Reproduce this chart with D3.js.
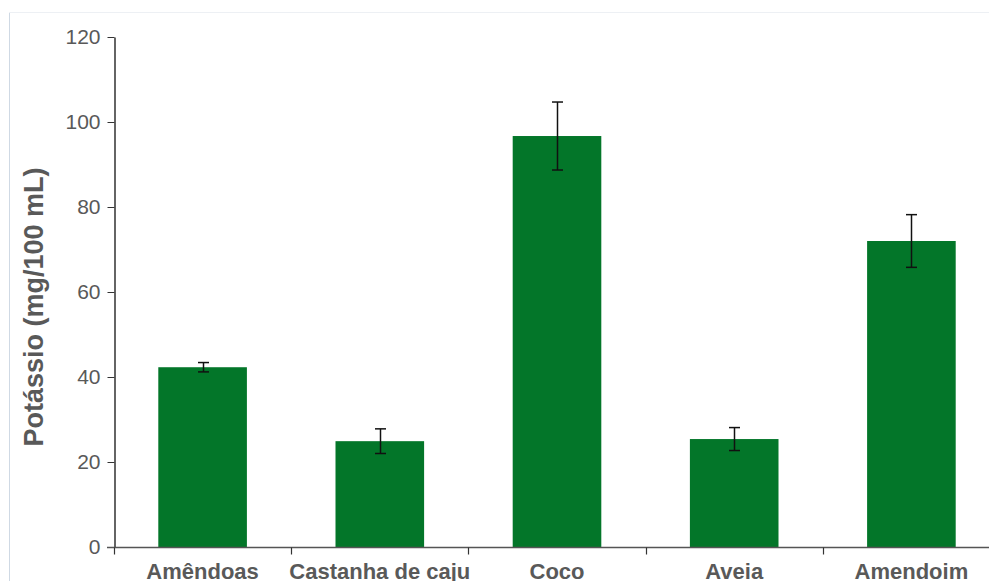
<!DOCTYPE html>
<html>
<head>
<meta charset="utf-8">
<script src="https://cdn.jsdelivr.net/npm/d3@7"></script>
<style>
  html, body { margin: 0; padding: 0; background: #fff; }
  svg { display: block; }
</style>
</head>
<body>
<svg id="chart" width="989" height="581"></svg>
<script>
// Potassium content of plant-based drinks (mg/100 mL), mean ± error
const categories = ["Amêndoas", "Castanha de caju", "Coco", "Aveia", "Amendoim"];
const values = [42.3, 24.9, 96.7, 25.4, 72.0];
const errors = [1.1, 2.9, 8.0, 2.7, 6.2];
const yTicks = [0, 20, 40, 60, 80, 100, 120];
const yTitle = "Potássio (mg/100 mL)";

const data = categories.map((c, i) => ({ name: c, value: values[i], err: errors[i] }));

const svg = d3.select("#chart");
const margin = { left: 114, top: 37 };
const plotRight = 1000;
const height = 581;
const font = "Liberation Sans, Arial, sans-serif";

// light frame lines
svg.append("line").attr("x1", 9.5).attr("x2", 9.5).attr("y1", 12).attr("y2", height)
  .attr("stroke", "#cfd9e4").attr("stroke-width", 1);
svg.append("line").attr("x1", 9).attr("x2", 989).attr("y1", 12.5).attr("y2", 12.5)
  .attr("stroke", "#edf0f4").attr("stroke-width", 1);

const x = d3.scaleBand().domain(categories).range([margin.left, plotRight]).paddingInner(0.5).paddingOuter(0.25);
const y = d3.scaleLinear().domain([0, 120]).range([547, margin.top]);

// bars
svg.append("g").selectAll("rect").data(data).join("rect")
  .attr("x", d => x(d.name))
  .attr("width", x.bandwidth())
  .attr("y", d => y(d.value))
  .attr("height", d => y(0) - y(d.value))
  .attr("fill", "#037629");

// error bars
const eb = svg.append("g").attr("stroke", "#111").attr("stroke-width", 1.5);
data.forEach(d => {
  const cx = Math.round(x(d.name) + x.bandwidth() / 2) + 0.5;
  const top = y(d.value + d.err), bot = y(d.value - d.err);
  eb.append("line").attr("x1", cx).attr("x2", cx).attr("y1", top).attr("y2", bot);
  eb.append("line").attr("x1", cx - 5.5).attr("x2", cx + 5.5).attr("y1", top).attr("y2", top);
  eb.append("line").attr("x1", cx - 5.5).attr("x2", cx + 5.5).attr("y1", bot).attr("y2", bot);
});

// y axis
const yAxis = svg.append("g").attr("transform", `translate(${margin.left + 0.5},0)`)
  .call(d3.axisLeft(y).tickValues(yTicks).tickSize(7).tickPadding(7).tickSizeOuter(0));
yAxis.select(".domain").attr("stroke", "#111").attr("stroke-width", 1.3);
yAxis.selectAll(".tick line").attr("stroke", "#333");
yAxis.selectAll(".tick text").attr("font-family", font)
  .attr("font-size", 21).attr("fill", "#595959");

// x axis baseline and category separators
const xAxisG = svg.append("g").attr("transform", `translate(0,${y(0) + 0.5})`);
xAxisG.append("line").attr("x1", margin.left - 7).attr("x2", plotRight)
  .attr("stroke", "#555").attr("stroke-width", 1.3);
const bounds = d3.range(categories.length + 1).map(i => margin.left + i * (plotRight - margin.left) / categories.length);
xAxisG.selectAll("line.sep").data(bounds).join("line").attr("class", "sep")
  .attr("x1", d => Math.round(d) + 0.5).attr("x2", d => Math.round(d) + 0.5)
  .attr("y1", 0).attr("y2", 7).attr("stroke", "#333").attr("stroke-width", 1.2);
xAxisG.selectAll("text").data(categories).join("text")
  .attr("x", d => x(d) + x.bandwidth() / 2)
  .attr("y", 31)
  .attr("text-anchor", "middle")
  .attr("font-family", font)
  .attr("font-weight", "bold").attr("font-size", 22).attr("fill", "#595959")
  .text(d => d);

// y axis title
svg.append("text")
  .attr("transform", `translate(43,307) rotate(-90)`)
  .attr("text-anchor", "middle")
  .attr("font-family", font)
  .attr("font-weight", "bold").attr("font-size", 27).attr("fill", "#595959")
  .text(yTitle);
</script>
</body>
</html>
